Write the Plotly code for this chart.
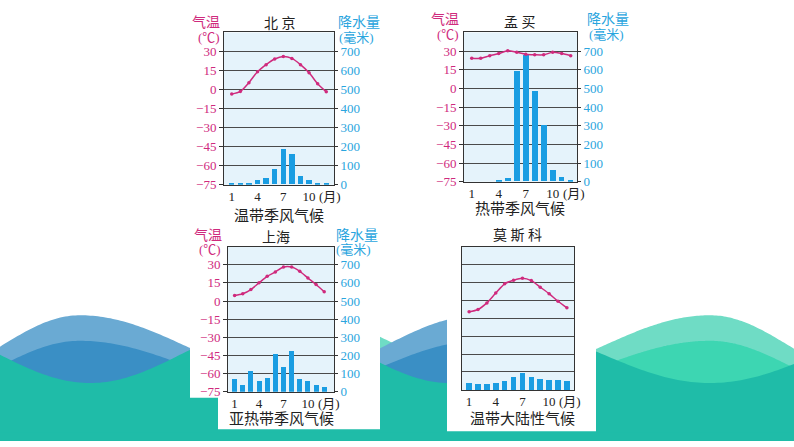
import numpy as np
import plotly.graph_objects as go

W, H = 794, 447

# ---------------- data ----------------
months = list(range(1, 13))
month_ticks = [1, 4, 7, 10]
month_labels = ["1", "4", "7", "10"]
temp_ticks = [-75, -60, -45, -30, -15, 0, 15, 30]
temp_labels = ["\u221275", "\u221260", "\u221245", "\u221230", "\u221215", "0", "15", "30"]
precip_ticks = [0, 100, 200, 300, 400, 500, 600, 700]
precip_labels = [str(v) for v in precip_ticks]

beijing_temp = [-3.6, -1.5, 5.4, 14, 19.6, 24, 26, 24.5, 19.6, 13.2, 4.6, -1.8]
beijing_precip = [3, 5, 8, 22, 35, 78, 185, 160, 43, 22, 8, 3]

mumbai_temp = [24.2, 24.2, 26.3, 28, 30.3, 29, 27.4, 27, 27, 29, 28, 26.3]
mumbai_precip = [0, 0, 0, 3, 18, 590, 678, 485, 303, 61, 25, 3]

shanghai_temp = [4.6, 6, 9.5, 15, 20.4, 24, 28, 28, 24.5, 19, 13.6, 7.6]
shanghai_precip = [72, 43, 116, 63, 81, 212, 139, 228, 72, 63, 42, 31]

moscow_temp = [-9.6, -7.7, -2.2, 6, 13.8, 16.8, 18.5, 16.5, 11, 5.5, -0.8, -6.3]
moscow_precip = [42, 35, 35, 44, 51, 73, 95, 76, 64, 56, 56, 55]

# ---------------- styles ----------------
TEMP_C = "#cf2a7d"
PREC_C = "#2aa5de"
BAR_C = "#1a9de2"
GRID_C = "#4a4a4a"
BG_C = "#e5f3fb"
CJK = "Liberation Serif, Noto Sans CJK SC"
NUM = "Liberation Serif"


def px(x):
    return x / W


def py(y):
    return 1 - y / H


panels = [
    dict(temp=beijing_temp, precip=beijing_precip, box=(224, 334, 33, 188), xr=[0.1, 12.9], labels=True),
    dict(temp=mumbai_temp, precip=mumbai_precip, box=(464, 577, 33, 185), xr=[0.14, 12.7], labels=True),
    dict(temp=shanghai_temp, precip=shanghai_precip, box=(228, 334, 251, 399), xr=[0.19, 13.2], labels=True),
    dict(temp=moscow_temp, precip=moscow_precip, box=(462, 574, 251, 397), xr=[0.2, 12.8], labels=False),
]

fig = go.Figure()
layout = dict(
    width=W, height=H, margin=dict(l=0, r=0, t=0, b=0),
    paper_bgcolor="white", plot_bgcolor="rgba(0,0,0,0)",
    showlegend=False, bargap=0,
)

annotations = []
shapes = []


def phase(x, nodes):
    k = np.arange(len(nodes)) - 1
    return np.interp(x, nodes, k * np.pi)


blue_nodes = [-77, 80, 290, 480, 680]
green_nodes = [120, 300, 497, 710, 868]
teal_nodes = [-95, 90, 275, 450, 492, 710, 928]


def area_path(xv, yv):
    pts = ["M{:.4f},{:.4f}".format(px(xv[0]), py(H + 2))]
    for a, b in zip(xv, yv):
        pts.append("L{:.4f},{:.4f}".format(px(a), py(b)))
    pts.append("L{:.4f},{:.4f}".format(px(xv[-1]), py(H + 2)))
    pts.append("Z")
    return " ".join(pts)


def wave_shape(xmin, xmax, nodes, center, amp, color, sign=-1):
    xv = np.linspace(xmin, xmax, 240)
    yv = center + sign * amp * np.cos(phase(xv, nodes))
    return dict(type="path", xref="paper", yref="paper", layer="below",
                path=area_path(xv, yv), fillcolor=color, line=dict(width=0))


shapes.append(wave_shape(330, W, green_nodes, 352, 31, "#6fdcc5"))
shapes.append(wave_shape(0, 600, blue_nodes, 352, 31, "#6aaad3"))
shapes.append(wave_shape(520, W, green_nodes, 372, 25, "#3dd6b2"))
shapes.append(wave_shape(0, 600, blue_nodes, 372, 25, "#3a8fc5"))
shapes.append(wave_shape(0, W, teal_nodes, 360, 30, "#1fbca8", sign=1))
shapes.append(dict(type="rect", xref="paper", yref="paper", layer="below",
                   x0=0, x1=1, y0=py(H + 2), y1=py(440), fillcolor="#1fbca8", line=dict(width=0)))


def rect_px(x0, x1, y0, y1, color):
    return dict(type="rect", xref="paper", yref="paper", layer="below",
                x0=px(x0), x1=px(x1), y0=py(y1), y1=py(y0), fillcolor=color, line=dict(width=0))


shapes.append(rect_px(190, 380, 228, 405, "white"))
shapes.append(rect_px(218, 380, 228, 437, "white"))
shapes.append(rect_px(447, 596, 228, 439, "white"))

for i, p in enumerate(panels):
    n = i + 1
    xa = "x" if n == 1 else "x%d" % n
    yb = 2 * n - 1
    yt = 2 * n
    yb_name = "y" if yb == 1 else "y%d" % yb
    yt_name = "y%d" % yt
    l, r, t, b = p["box"]

    fig.add_trace(go.Bar(x=months, y=p["precip"], xaxis=xa, yaxis=yb_name,
                         marker=dict(color=BAR_C, line=dict(width=0)), width=0.62,
                         hoverinfo="skip"))
    fig.add_trace(go.Scatter(x=months, y=p["temp"], xaxis=xa, yaxis=yt_name,
                             mode="lines+markers",
                             line=dict(color=TEMP_C, width=1.5, shape="spline", smoothing=0.8),
                             marker=dict(color=TEMP_C, size=3.5), hoverinfo="skip"))

    xkey = "xaxis" if n == 1 else "xaxis%d" % n
    ybkey = "yaxis" if yb == 1 else "yaxis%d" % yb
    ytkey = "yaxis%d" % yt

    layout[xkey] = dict(
        domain=[px(l), px(r)], anchor=yb_name, range=p["xr"],
        tickmode="array", tickvals=month_ticks, ticktext=month_labels,
        ticks="", showgrid=False, zeroline=False,
        showline=True, mirror=True, linecolor="#333", linewidth=1,
        tickfont=dict(family=NUM, size=13, color="#222"), fixedrange=True,
    )
    layout[ybkey] = dict(
        domain=[py(b), py(t)], anchor=xa, side="right", range=[0, 800],
        tickmode="array", tickvals=precip_ticks, ticktext=precip_labels,
        showticklabels=p["labels"], ticks="outside" if p["labels"] else "", ticklen=3, tickcolor="#333",
        showgrid=True, gridcolor=GRID_C, gridwidth=1, zeroline=False,
        showline=True, mirror=True, linecolor="#333", linewidth=1,
        tickfont=dict(family=NUM, size=13, color=PREC_C), fixedrange=True,
    )
    layout[ytkey] = dict(
        overlaying=yb_name, anchor=xa, side="left", range=[-75, 45],
        tickmode="array", tickvals=temp_ticks, ticktext=temp_labels,
        showticklabels=p["labels"], ticks="outside" if p["labels"] else "", ticklen=4, tickcolor="#333",
        showgrid=False, zeroline=False, showline=False,
        tickfont=dict(family=NUM, size=13, color=TEMP_C), fixedrange=True,
    )
    shapes.append(dict(type="rect", xref="paper", yref="paper", layer="below",
                       x0=px(l), x1=px(r), y0=py(b), y1=py(t), fillcolor=BG_C, line=dict(width=0)))

    annotations.append(dict(text="(月)", xref=xa, x=10, xanchor="left", xshift=8,
                            yref="paper", y=py(b), yanchor="top", yshift=-2, showarrow=False,
                            font=dict(family=CJK, size=13, color="#222")))


def ann(text, x, y, size, color):
    annotations.append(dict(text=text, x=px(x), y=py(y), xref="paper", yref="paper",
                            xanchor="center", yanchor="middle", showarrow=False,
                            font=dict(family=CJK, size=size, color=color)))


ann("北 京", 280, 24, 14, "#222")
ann("气温", 206, 23, 14, TEMP_C)
ann("(℃)", 209, 38, 13, TEMP_C)
ann("降水量", 359, 23, 14, PREC_C)
ann("(毫米)", 356, 38, 13, PREC_C)
ann("温带季风气候", 279, 220, 15, "#222")

ann("孟 买", 520, 23, 14, "#222")
ann("气温", 445, 20, 14, TEMP_C)
ann("(℃)", 448, 35, 13, TEMP_C)
ann("降水量", 608, 20, 14, PREC_C)
ann("(毫米)", 606, 35, 13, PREC_C)
ann("热带季风气候", 520, 213, 15, "#222")

ann("上海", 276, 242, 14, "#222")
ann("气温", 208, 240, 14, TEMP_C)
ann("(℃)", 210, 254, 13, TEMP_C)
ann("降水量", 357, 240, 14, PREC_C)
ann("(毫米)", 353, 254, 13, PREC_C)
ann("亚热带季风气候", 281, 427, 15, "#222")

ann("莫 斯 科", 517, 240, 14, "#222")
ann("温带大陆性气候", 522, 427, 15, "#222")

layout["shapes"] = shapes
layout["annotations"] = annotations
fig.update_layout(**layout)
fig.write_html("out.html", config={"displayModeBar": False},
               post_script="document.body.style.margin='0';document.body.style.overflow='hidden';")
